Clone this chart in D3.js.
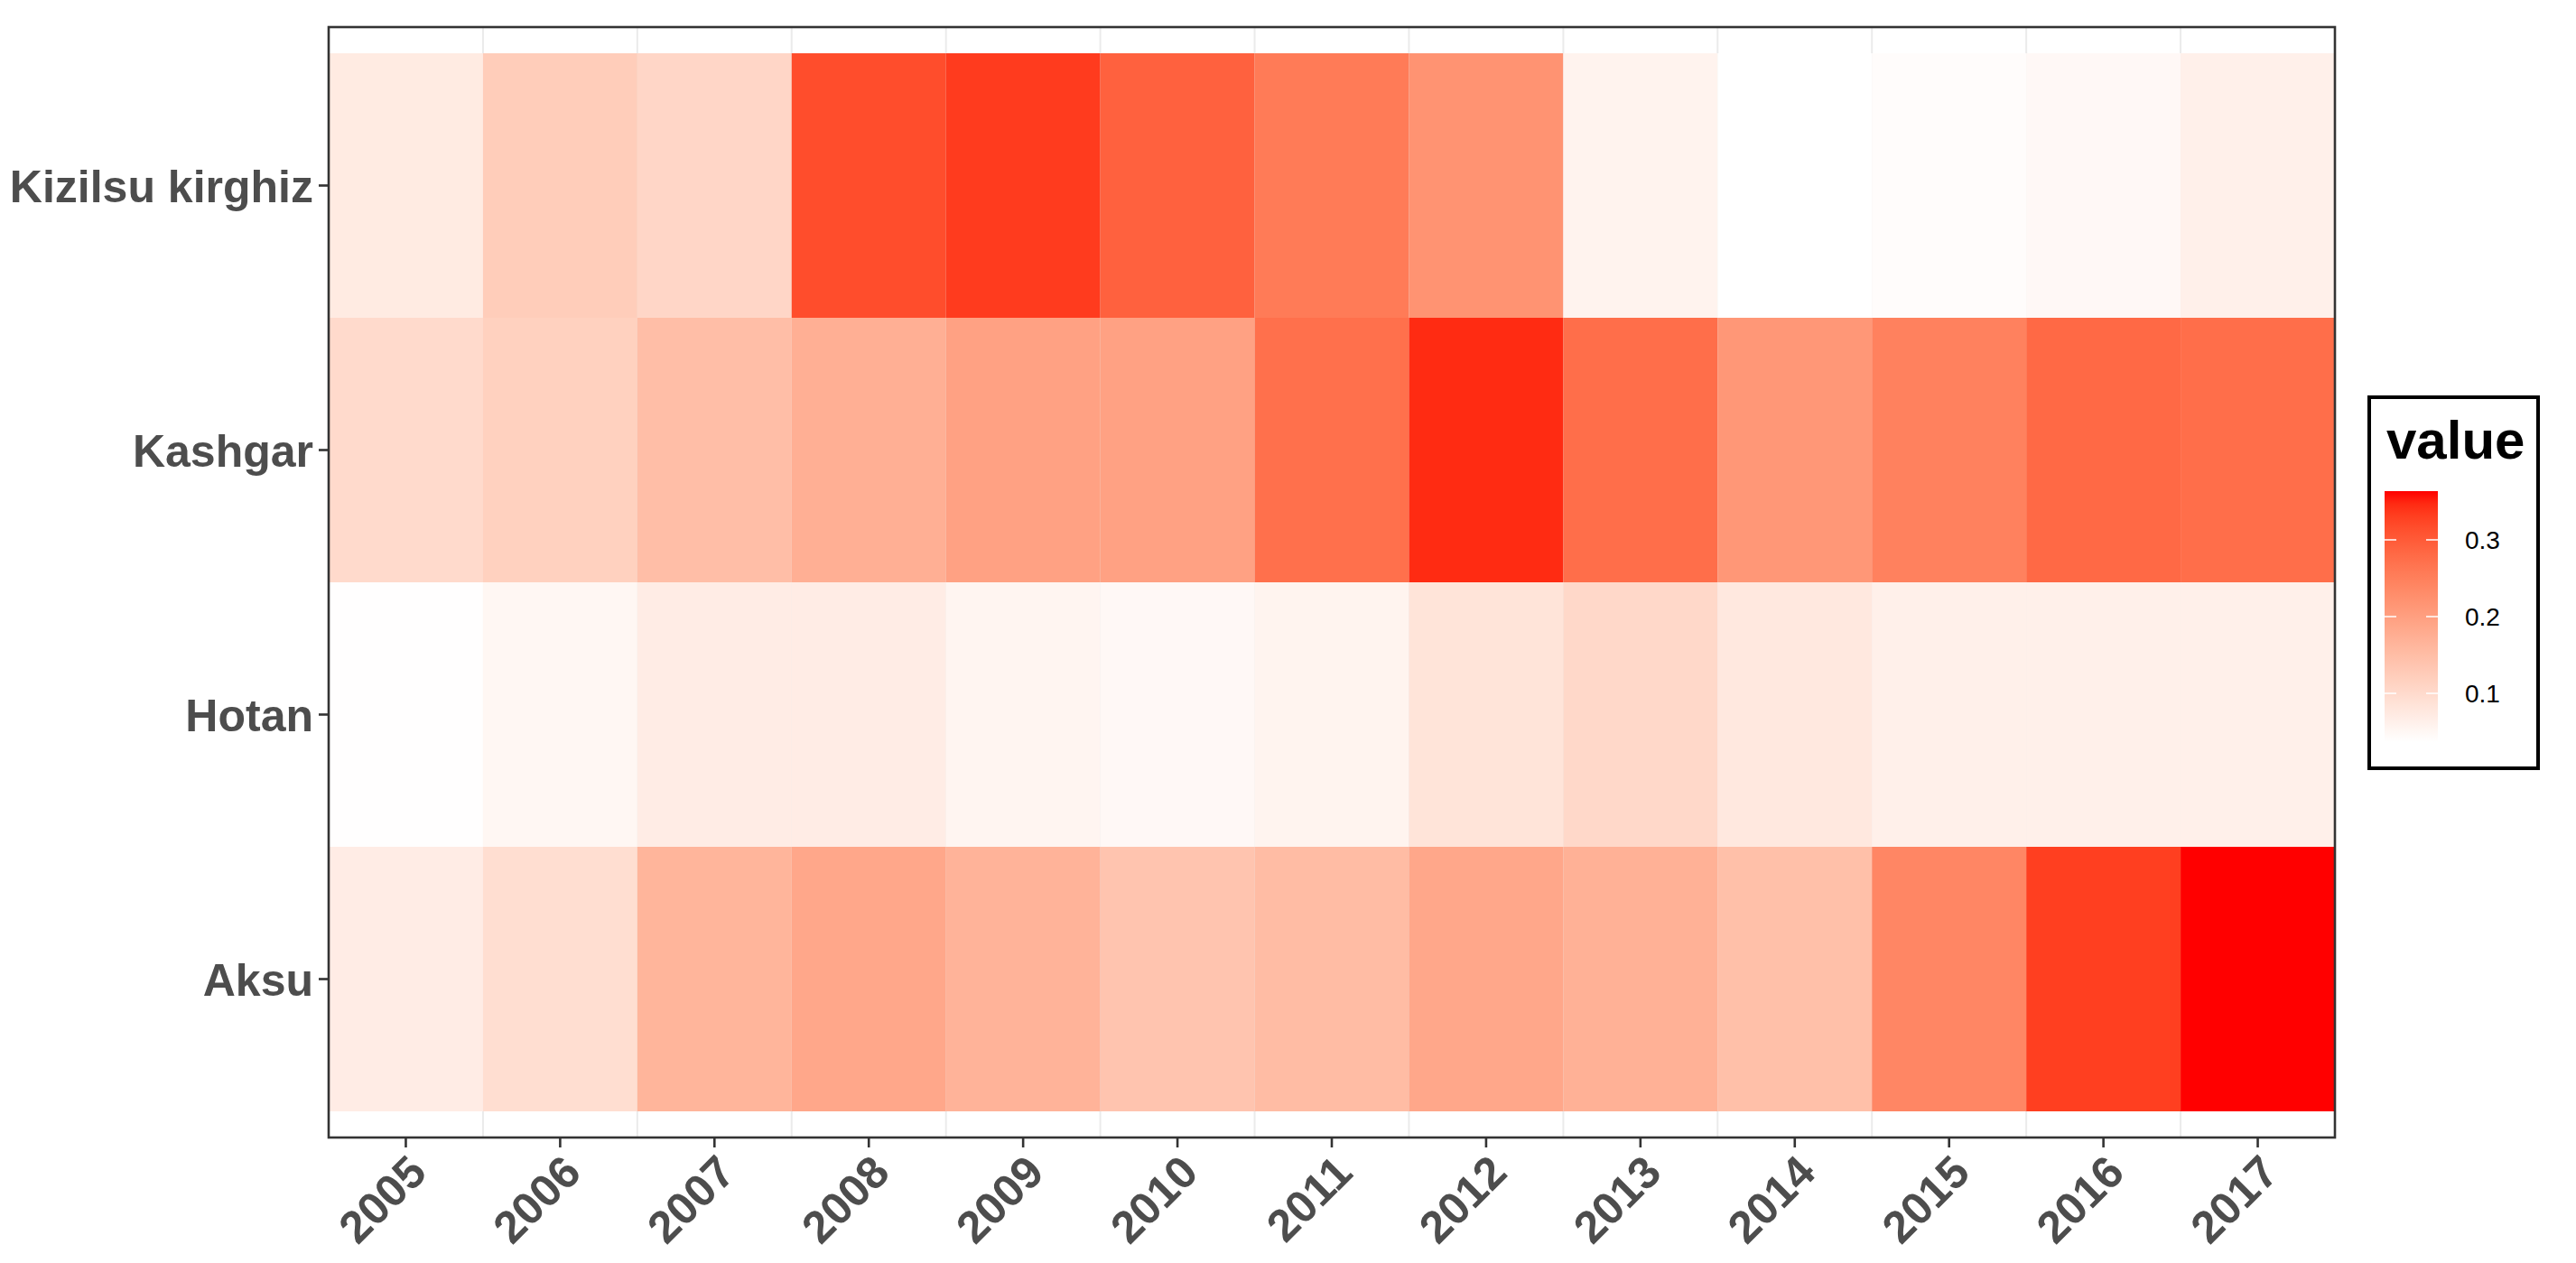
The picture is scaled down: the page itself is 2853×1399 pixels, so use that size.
<!DOCTYPE html>
<html>
<head>
<meta charset="utf-8">
<script src="https://cdn.jsdelivr.net/npm/d3@7"></script>
<style>
  html, body { margin: 0; padding: 0; background: #fff; }
  svg { display: block; font-family: "Liberation Sans", Arial, sans-serif; }
</style>
</head>
<body>
<svg id="chart" width="2853" height="1399"></svg>
<script>
// ---- data ----
const years = ["2005","2006","2007","2008","2009","2010","2011","2012","2013","2014","2015","2016","2017"];
const regions = ["Kizilsu kirghiz", "Kashgar", "Hotan", "Aksu"]; // top to bottom
const kizilsu = [0.072, 0.123, 0.107, 0.316, 0.334, 0.292, 0.256, 0.220, 0.058, 0.0365, 0.041, 0.048, 0.063];
const kashgar = [0.100, 0.117, 0.148, 0.174, 0.197, 0.197, 0.272, 0.347, 0.275, 0.213, 0.247, 0.282, 0.275];
const hotan   = [0.038, 0.051, 0.069, 0.069, 0.054, 0.048, 0.056, 0.084, 0.104, 0.077, 0.062, 0.062, 0.063];
const aksu    = [0.069, 0.094, 0.164, 0.187, 0.167, 0.138, 0.153, 0.187, 0.171, 0.146, 0.239, 0.331, 0.3635];
const legendTicks = [0.1, 0.2, 0.3];

const seriesByRegion = {"Kizilsu kirghiz": kizilsu, "Kashgar": kashgar, "Hotan": hotan, "Aksu": aksu};
const cells = [];
regions.forEach(r => seriesByRegion[r].forEach((v, i) => cells.push({region: r, year: years[i], value: v})));

// ---- layout ----
const svg = d3.select("#chart");
const panel = {x0: 364, x1: 2586, y0: 30, y1: 1260};
const yPad = 29;
const textCol = "#4D4D4D", lineCol = "#333333";

const x = d3.scaleBand().domain(years).range([panel.x0, panel.x1]).padding(0);
const y = d3.scaleBand().domain(regions).range([panel.y0 + yPad, panel.y1 - yPad]).padding(0);

const extent = d3.extent(cells, d => d.value);
const color = d3.scaleLinear().domain(extent).range(["white", "red"]).interpolate(d3.interpolateLab);

// panel background
svg.append("rect").attr("x", panel.x0).attr("y", panel.y0)
  .attr("width", panel.x1 - panel.x0).attr("height", panel.y1 - panel.y0).attr("fill", "#fff");

// grid lines (band boundaries)
const gridG = svg.append("g");
years.slice(1).forEach(yr => {
  gridG.append("line").attr("x1", x(yr)).attr("x2", x(yr))
    .attr("y1", panel.y0).attr("y2", panel.y1)
    .attr("stroke", "#EBEBEB").attr("stroke-width", 2);
});

// tiles
svg.append("g").selectAll("rect").data(cells).join("rect")
  .attr("x", d => x(d.year)).attr("y", d => y(d.region))
  .attr("width", x.bandwidth()).attr("height", y.bandwidth())
  .attr("fill", d => color(d.value));

// panel border
svg.append("rect").attr("x", panel.x0).attr("y", panel.y0)
  .attr("width", panel.x1 - panel.x0).attr("height", panel.y1 - panel.y0)
  .attr("fill", "none").attr("stroke", lineCol).attr("stroke-width", 2.6);

// y axis
const yAxis = svg.append("g");
regions.forEach(r => {
  const cy = y(r) + y.bandwidth() / 2;
  yAxis.append("line").attr("x1", panel.x0 - 11).attr("x2", panel.x0)
    .attr("y1", cy).attr("y2", cy).attr("stroke", lineCol).attr("stroke-width", 2.6);
  yAxis.append("text").attr("x", panel.x0 - 17).attr("y", cy).attr("dy", "0.36em")
    .attr("text-anchor", "end").attr("font-size", 50).attr("font-weight", "bold")
    .attr("fill", textCol).text(r);
});

// x axis
const xAxis = svg.append("g");
years.forEach(yr => {
  const cx = x(yr) + x.bandwidth() / 2;
  xAxis.append("line").attr("x1", cx).attr("x2", cx)
    .attr("y1", panel.y1).attr("y2", panel.y1 + 11).attr("stroke", lineCol).attr("stroke-width", 2.6);
  xAxis.append("text")
    .attr("transform", `translate(${cx},${panel.y1 + 16}) rotate(-45)`)
    .attr("dy", "0.72em").attr("text-anchor", "end")
    .attr("font-size", 50).attr("font-weight", "bold").attr("fill", textCol).text(yr);
});

// legend
const leg = {x0: 2622, y0: 438, x1: 2813, y1: 853};
svg.append("rect").attr("x", leg.x0 + 2).attr("y", leg.y0 + 2)
  .attr("width", leg.x1 - leg.x0 - 4).attr("height", leg.y1 - leg.y0 - 4)
  .attr("fill", "#fff").attr("stroke", "#000").attr("stroke-width", 4);
svg.append("text").attr("x", 2643).attr("y", 508).attr("font-size", 60)
  .attr("font-weight", "bold").attr("fill", "#000").text("value");

const bar = {x0: 2641, x1: 2700, y0: 544, y1: 822};
const lg = d3.scaleLinear().domain(extent).range([bar.y1, bar.y0]);
const defs = svg.append("defs");
const grad = defs.append("linearGradient").attr("id", "lg").attr("x1", 0).attr("y1", 1).attr("x2", 0).attr("y2", 0);
d3.range(0, 1.0001, 0.05).forEach(t => {
  grad.append("stop").attr("offset", t).attr("stop-color", color(extent[0] + t * (extent[1] - extent[0])));
});
svg.append("rect").attr("x", bar.x0).attr("y", bar.y0)
  .attr("width", bar.x1 - bar.x0).attr("height", bar.y1 - bar.y0).attr("fill", "url(#lg)");
legendTicks.forEach(t => {
  const ty = lg(t);
  svg.append("line").attr("x1", bar.x0).attr("x2", bar.x0 + 13).attr("y1", ty).attr("y2", ty)
    .attr("stroke", "#fff").attr("stroke-width", 1.5);
  svg.append("line").attr("x1", bar.x1 - 13).attr("x2", bar.x1).attr("y1", ty).attr("y2", ty)
    .attr("stroke", "#fff").attr("stroke-width", 1.5);
  svg.append("text").attr("x", 2730).attr("y", ty).attr("dy", "0.36em")
    .attr("font-size", 28).attr("fill", "#000").text(t.toFixed(1));
});
</script>
</body>
</html>
